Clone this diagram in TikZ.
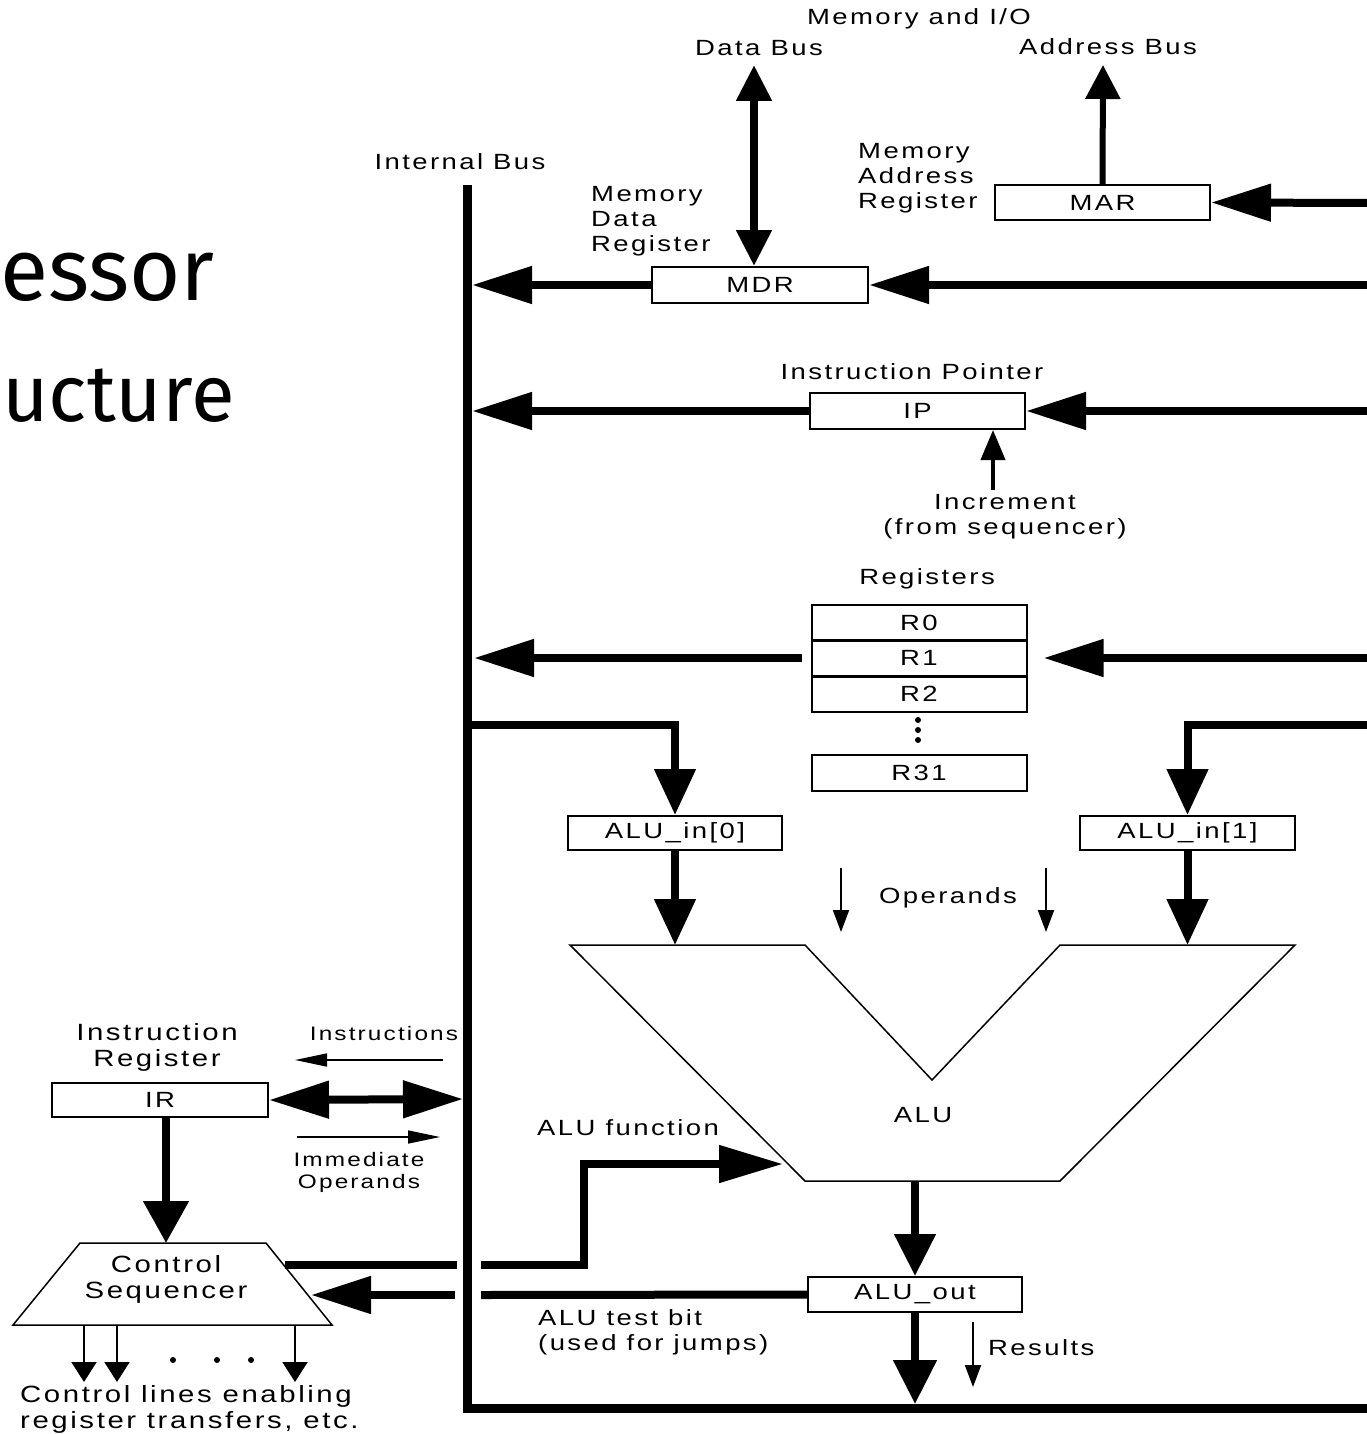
\documentclass[tikz,border=0pt]{standalone}
\usepackage{fontspec}
\setmainfont{Liberation Sans}
\newfontfamily\df{Liberation Sans}[FakeStretch=1.25,LetterSpace=11]
\newfontfamily\tf{Fira Sans}
\usetikzlibrary{arrows.meta,calc}
\tikzset{
  lbl/.style={font=\df\fontsize{22}{25}\selectfont, inner sep=0pt},
  lft/.style={font=\df\fontsize{23.5}{26}\selectfont, inner sep=0pt},
  sml/.style={font=\df\fontsize{19.5}{22}\selectfont, inner sep=0pt},
  reg/.style={draw, line width=2pt, minimum width=215pt, minimum height=35pt, inner sep=0pt, font=\df\fontsize{22}{25}\selectfont},
  fat/.style={line width=8pt},
  hbig/.style={fat, -{Triangle[length=60pt,width=36pt]}},
  hdown/.style={fat, -{Triangle[length=46pt,width=40pt]}},
  hthin/.style={line width=2pt, -{Triangle[length=22pt,width=16pt]}},
  hctl/.style={line width=2pt, -{Triangle[length=20pt,width=25pt]}},
  hflow/.style={line width=1.5pt, -{Triangle[length=32pt,width=13pt]}},
  ttl/.style={inner sep=0pt},
  dotf/.style={fill=black},
}
\begin{document}
\begin{tikzpicture}[x=1pt,y=-1pt,line join=miter]
\useasboundingbox (0,0) rectangle (1367,1434);
\clip (0,0) rectangle (1367,1434);

% title (as much of it as the picture shows)
\node[ttl, font=\tf\fontsize{88}{92}\selectfont, anchor=base east] (t1) at (215,300) {essor};
\node[ttl, font=\tf\fontsize{80}{92}\selectfont, anchor=base west] (t2) at (2,421) {ucture};

% internal bus
\coordinate (busTop) at (467,185);
\coordinate (busBot) at (467,1408);
\coordinate (busEnd) at (1375,1408);
\draw[line width=9pt] (busTop) -- (busBot) -- (busEnd);
\node[lbl] (lbus) at (460,162) {Internal Bus};

% top labels
\node[lbl] (lmio) at (919,19) {Memory and I/O};
\node[lbl] (ldb) at (759,48) {Data Bus};
\node[lbl] (lab) at (1108,47) {Address Bus};

% registers
\node[reg] (MAR) at (1102.5,202.5) {MAR};
\node[reg, minimum width=216pt, minimum height=36pt] (MDR) at (760,285) {MDR};
\node[reg, minimum height=36pt] (IP) at (917.5,411) {IP};
\node[reg] (R0) at (919,622.5) {R0};
\node[reg] (R1) at (919,658) {R1};
\node[reg] (R2) at (919,694) {R2};
\node[reg, minimum height=36pt] (R31) at (919,773) {R31};
\node[reg, minimum width=214pt, minimum height=34pt] (ain0) at (675,833) {ALU\_in[0]};
\node[reg, minimum height=34pt] (ain1) at (1187.5,833) {ALU\_in[1]};
\node[reg, minimum width=214pt] (aout) at (915,1294.5) {ALU\_out};
\node[reg, minimum width=216pt, minimum height=34pt] (IR) at (160,1100) {IR};

\node[lbl, align=left, anchor=west] (lmar) at (858,178) {Memory\\Address\\Register};
\node[lbl, align=left, anchor=west] (lmdr) at (591,221) {Memory\\Data\\Register};
\node[lbl] (lip) at (912,372) {Instruction Pointer};
\node[lbl, align=center] (linc) at (1005,517) {Increment\\(from sequencer)};
\node[lbl] (lregs) at (927,579) {Registers};

% register dots
\fill[dotf] (918,720) circle (3pt) (918,730) circle (3pt) (918,740) circle (3pt);

% MAR / address bus
\coordinate (inMAR) at (1375,203);
\draw[hbig] (inMAR) -- (MAR.east);
\coordinate (abus) at (1103,65);
\draw[line width=6pt, -{Triangle[length=34pt,width=34pt]}] (MAR.north) -- (abus);

% MDR / data bus
\coordinate (dbus) at (754,65);
\draw[fat, {Triangle[length=36pt,width=34pt]}-{Triangle[length=36pt,width=34pt]}] (dbus) -- (dbus |- MDR.north);
\coordinate (b1) at (472,285);
\coordinate (in1) at (1375,285);
\draw[hbig] (MDR.west) -- (b1);
\draw[hbig] (in1) -- (MDR.east);

% IP
\coordinate (b2) at (472,411);
\coordinate (in2) at (1375,411);
\draw[hbig] (IP.west) -- (b2);
\draw[hbig] (in2) -- (IP.east);
\coordinate (inc) at (993,490);
\draw[line width=4pt, -{Triangle[length=30pt,width=24pt]}] (inc) -- (inc |- IP.south);

% register file
\coordinate (b3) at (474,658);
\coordinate (in3) at (1375,658);
\draw[hbig, shorten <=9pt] (R1.west) -- (b3);
\draw[hbig, shorten >=16pt] (in3) -- (R1.east);

% ALU inputs
\coordinate (b4) at (471,725);
\coordinate (in4) at (1375,725);
\draw[hdown] (b4) -| (ain0.north);
\draw[hdown] (in4) -| (ain1.north);

% ALU
\coordinate (aluTop) at (0,945);
\coordinate (aluOutP) at (915,1181);
\coordinate (aluFn) at (783,1164);
\draw[line width=1.5pt] (570,945) -- (805,945) -- (932,1080) -- (1060,945) -- (1295,945) -- (1060,1181) -- (805,1181) -- cycle;
\node[lbl] (alu) at (923,1115) {ALU};
\draw[hdown] (ain0.south) -- (ain0.south |- aluTop);
\draw[hdown] (ain1.south) -- (ain1.south |- aluTop);

% operands
\node[lbl] (lops) at (948,898) {Operands};
\coordinate (op1) at (841,868);
\coordinate (op1e) at (841,932);
\coordinate (op2) at (1046,868);
\coordinate (op2e) at (1046,932);
\draw[hthin] (op1) -- (op1e);
\draw[hthin] (op2) -- (op2e);

% ALU output
\draw[fat, -{Triangle[length=42pt,width=40pt]}] (aluOutP) -- (aout.north);
\coordinate (busIn) at (915,1404);
\draw[fat, -{Triangle[length=44pt,width=42pt]}] (aout.south) -- (busIn);
\coordinate (res) at (973,1322);
\coordinate (rese) at (973,1387);
\draw[hthin] (res) -- (rese);
\node[lbl, anchor=west] (lres) at (988,1348) {Results};

% control sequencer
\coordinate (sq1) at (80,1243);
\coordinate (sq2) at (266,1243);
\coordinate (sq3) at (332,1325);
\coordinate (sq4) at (13,1325);
\draw[line width=1.5pt] (sq1) -- (sq2) -- (sq3) -- (sq4) -- cycle;
\node[lft, align=center] (seq) at (166,1279) {Control\\Sequencer};
\node[lft, align=center] (lir) at (157,1047) {Instruction\\Register};

\draw[fat, -{Triangle[length=42pt,width=44pt]}] ($(IR.south)+(6,0)$) -- ($(IR.south |- sq1)+(6,0)$);

% IR <-> bus
\coordinate (b5) at (463,1099);
\draw[fat, {Triangle[length=60pt,width=36pt]}-{Triangle[length=60pt,width=36pt]}] (IR.east) -- (b5);
\node[sml] (lins) at (384,1034) {Instructions};
\coordinate (ins1) at (443,1060);
\coordinate (ins2) at (295,1060);
\draw[hflow] (ins1) -- (ins2);
\coordinate (imm1) at (297,1137);
\coordinate (imm2) at (440,1137);
\draw[hflow] (imm1) -- (imm2);
\node[sml, align=center] (limm) at (359,1172) {Immediate\\Operands};

% ALU function line (crosses under the bus)
\coordinate (s1) at (285,1265);
\coordinate (g1) at (457,1265);
\coordinate (g2) at (481,1265);
\coordinate (fk) at (584,1265);
\draw[fat] (s1) -- (g1);
\draw[fat, -{Triangle[length=64pt,width=36pt]}] (g2) -- (fk) |- (aluFn);
\node[lbl] (lfn) at (628,1128) {ALU function};

% ALU test bit
\coordinate (g3) at (481,1295);
\coordinate (g4) at (455,1295);
\coordinate (s2) at (311,1295);
\draw[fat] (aout.west) -- (g3);
\draw[hbig] (g4) -- (s2);
\node[lbl, align=left, anchor=west] (ltb) at (538,1332) {ALU test bit\\(used for jumps)};

% control lines
\coordinate (c1) at (84,1325);
\coordinate (c1e) at (84,1382);
\coordinate (c2) at (117,1325);
\coordinate (c2e) at (117,1382);
\coordinate (c3) at (295,1325);
\coordinate (c3e) at (295,1382);
\draw[hctl] (c1) -- (c1e);
\draw[hctl] (c2) -- (c2e);
\draw[hctl] (c3) -- (c3e);
\fill[dotf] (173,1360) circle (3pt) (217,1360) circle (3pt) (251,1360) circle (3pt);
\node[lft, align=left, anchor=west] (lcl) at (20,1409) {Control lines enabling\\register transfers, etc.};
\end{tikzpicture}
\end{document}
